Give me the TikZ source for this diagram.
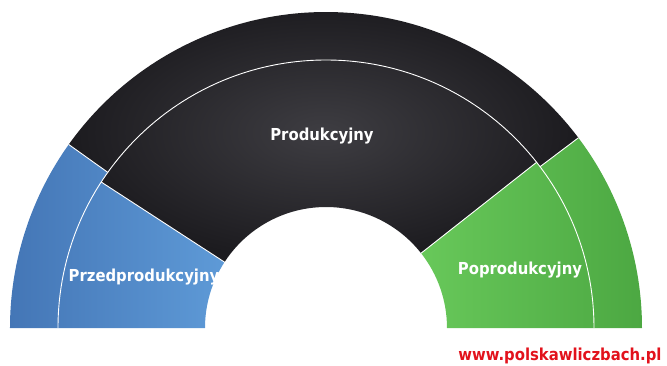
\documentclass[tikz,border=0pt]{standalone}
\usepackage{fontspec}
\newfontfamily\lab{DejaVu Sans Condensed Bold}
\definecolor{blueL}{RGB}{94,154,215}
\definecolor{blueD}{RGB}{68,118,182}
\definecolor{greenL}{RGB}{104,200,90}
\definecolor{greenD}{RGB}{76,168,66}
\definecolor{blkIn}{RGB}{62,61,66}
\definecolor{blkOut}{RGB}{28,27,31}
\definecolor{wmred}{RGB}{226,18,28}
\begin{document}
\begin{tikzpicture}[x=1pt,y=1pt,
  sepline/.style={draw=white, line width=0.9pt},
  lbl/.style={text=white, font=\lab\fontsize{16.5}{18}\selectfont, inner sep=0pt},
  wmark/.style={text=wmred, font=\lab\fontsize{16.5}{18}\selectfont, inner sep=0pt}]
\useasboundingbox (-326,-37) rectangle (341,328);
\def\Ro{316}\def\Rm{268}\def\Ri{121}
% blue segment (outer ring to 144.5, inner ring to 147)
\shade[left color=blueD, right color=blueL]
  (180:\Ri) -- (180:\Ro) arc[start angle=180,end angle=144.5,radius=\Ro]
  -- (144.5:\Rm) arc[start angle=144.5,end angle=147,radius=\Rm]
  -- (147:\Ri) arc[start angle=147,end angle=180,radius=\Ri] -- cycle;
% black segment
\shade[inner color=blkIn, outer color=blkOut]
  (144.5:\Ro) arc[start angle=144.5,end angle=37,radius=\Ro]
  -- (37:\Rm) arc[start angle=37,end angle=38.2,radius=\Rm]
  -- (38.2:\Ri) arc[start angle=38.2,end angle=147,radius=\Ri]
  -- (147:\Rm) arc[start angle=147,end angle=144.5,radius=\Rm] -- cycle;
% green segment
\shade[left color=greenL, right color=greenD]
  (0:\Ri) -- (0:\Ro) arc[start angle=0,end angle=37,radius=\Ro]
  -- (37:\Rm) arc[start angle=37,end angle=38.2,radius=\Rm]
  -- (38.2:\Ri) arc[start angle=38.2,end angle=0,radius=\Ri] -- cycle;
% separators
\draw[sepline] (180:\Rm) arc[start angle=180,end angle=0,radius=\Rm];
\draw[sepline] (144.5:\Rm) -- (144.5:\Ro);
\draw[sepline] (147:\Ri) -- (147:\Rm);
\draw[sepline] (37:\Rm) -- (37:\Ro);
\draw[sepline] (38.2:\Ri) -- (38.2:\Rm);
% labels
\node[lbl] (prod) at (-4,192) {Produkcyjny};
\node[lbl] (przed) at (-182,51) {Przedprodukcyjny};
\node[lbl] (po) at (194,58) {Poprodukcyjny};
\node[wmark] (www) at (234,-28) {www.polskawliczbach.pl};
\end{tikzpicture}
\end{document}
